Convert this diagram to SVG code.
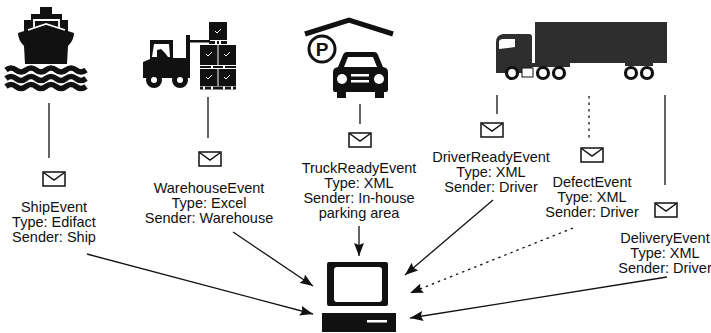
<svg xmlns="http://www.w3.org/2000/svg" width="711" height="333" viewBox="0 0 711 333">
  <style>
    .lbl { font-family: "Liberation Sans", Arial, sans-serif; font-size: 14.5px; fill: #111; text-anchor: middle; }
    .ink { fill: #111; }
    .wire { stroke: #111; stroke-width: 1.3; fill: none; }
    .dots { stroke: #111; stroke-width: 1.3; fill: none; stroke-dasharray: 2.5 4; }
    .env rect { fill: #fff; stroke: #111; stroke-width: 1.5; }
    .env path { fill: none; stroke: #111; stroke-width: 1.5; stroke-linejoin: miter; }
    .wave { fill: none; stroke: #111; stroke-width: 5.5; }
    .wheel { fill: #fff; stroke: #111; stroke-width: 3.2; }
    .chk { fill: none; stroke: #fff; stroke-width: 1; }
  </style>
  <defs>
    <marker id="head" markerUnits="userSpaceOnUse" markerWidth="14" markerHeight="10" refX="13" refY="5" orient="auto">
      <path d="M0 0 L13 5 L0 10 L2 5 Z" fill="#111"/>
    </marker>
    <g id="mail" class="env">
      <rect x="0" y="0" width="22" height="14"/>
      <path d="M0.5 0.5 L11 8 L21.5 0.5"/>
    </g>
  </defs>

  <!-- ship -->
  <g id="ship">
    <rect class="ink" x="40" y="7" width="12" height="8"/>
    <rect class="ink" x="31" y="14" width="31" height="8"/>
    <rect class="ink" x="24" y="20" width="44" height="12"/>
    <path d="M34 29 L34 20 L59 20 L59 29" stroke="#fff" stroke-width="1.8" fill="none"/>
    <path class="ink" d="M18 33 L46 24 L74 33 Q74 40 68 46 L67 64 L25 64 L24 46 Q18 40 18 33 Z"/>
    <path d="M28 30 L46 24 L65 30" stroke="#fff" stroke-width="1.8" fill="none"/>
    <path class="wave" d="M6 70 q5 -4 10 0 t10 0 t10 0 t10 0 t10 0 t10 0 t10 0 t10 0"/>
    <path class="wave" d="M6 78.5 q5 -4 10 0 t10 0 t10 0 t10 0 t10 0 t10 0 t10 0 t10 0"/>
    <path class="wave" d="M6 86.5 q5 -4 10 0 t10 0 t10 0 t10 0 t10 0 t10 0 t10 0 t10 0"/>
  </g>

  <!-- warehouse: forklift and pallets -->
  <g id="warehouse">
    <path class="ink" d="M143 78 L143 62 L150 59 L150 40 L173 40 L173 58 L187 58 L187 78 Z"/>
    <path d="M154 44 L169 44 L170 57 L152 57 Z" fill="#fff"/>
    <path class="ink" d="M157 57 L157 50 L161 49 L165 53 L168 57 Z"/>
    <rect class="ink" x="186" y="35" width="4" height="43"/>
    <rect class="ink" x="186" y="40" width="24" height="2.5"/>
    <circle class="ink" cx="154" cy="80" r="8"/>
    <circle cx="154" cy="80" r="3" fill="#fff"/>
    <circle class="ink" cx="180" cy="80" r="8"/>
    <circle cx="180" cy="80" r="3" fill="#fff"/>
    <rect class="ink" x="209" y="22" width="18" height="18"/>
    <rect class="ink" x="209" y="41" width="18" height="3"/>
    <rect class="ink" x="200" y="45" width="17.5" height="20"/>
    <rect class="ink" x="218.5" y="45" width="17.5" height="20"/>
    <rect class="ink" x="200" y="66" width="36" height="2"/>
    <rect class="ink" x="200" y="69" width="17.5" height="17"/>
    <rect class="ink" x="218.5" y="69" width="17.5" height="17"/>
    <rect class="ink" x="200" y="86.5" width="36" height="3"/>
    <path d="M204 86.5 v3 M212 86.5 v3 M224 86.5 v3 M232 86.5 v3 M212 66 v2 M224 66 v2 M216 41 v3 M220 41 v3" stroke="#fff" stroke-width="2"/>
    <path class="chk" d="M215 31 l2 2 l4 -4 M206 54 l2 2 l4 -4 M224 54 l2 2 l4 -4 M206 77 l2 2 l4 -4 M224 77 l2 2 l4 -4"/>
  </g>

  <!-- parking: roof, sign, car -->
  <g id="parking">
    <path d="M305 34 L349 20 L393 34" fill="none" stroke="#111" stroke-width="5"/>
    <circle cx="322" cy="49" r="13" fill="#fff" stroke="#111" stroke-width="3"/>
    <text x="322" y="56" font-family="Liberation Sans, Arial, sans-serif" font-weight="bold" font-size="19" text-anchor="middle" fill="#111">P</text>
    <path class="ink" d="M347 52 L374 52 Q377 52 378 55 L383 67 L386 68 Q388 69 388 72 L388 90 Q388 92 386 92 L335 92 Q333 92 333 90 L333 72 Q333 69 335 68 L338 67 L343 55 Q344 52 347 52 Z"/>
    <path d="M348 57 L373 57 L377 67 L344 67 Z" fill="#fff"/>
    <rect class="ink" x="337" y="90" width="9" height="8"/>
    <rect class="ink" x="375" y="90" width="9" height="8"/>
    <circle cx="342" cy="79" r="5" fill="#fff"/>
    <circle cx="379" cy="79" r="5" fill="#fff"/>
    <rect x="351" y="74" width="18" height="2.5" fill="#fff"/>
    <rect x="351" y="80" width="18" height="2.5" fill="#fff"/>
  </g>

  <!-- truck -->
  <g id="truck">
    <rect x="535" y="22" width="132" height="41" fill="#2e2e2e"/>
    <path d="M496 73 L496 42 Q496 35 503 34 L529 34 Q532 34 532 37 L532 73 Z" fill="#2e2e2e"/>
    <path d="M499 41 Q500 39 503 39 L515 39 L515 47 L499 49 Z" fill="#fff"/>
    <rect x="530" y="63" width="40" height="4" fill="#2e2e2e"/>
    <rect x="625" y="63" width="28" height="3" fill="#2e2e2e"/>
    <rect x="522" y="68" width="11" height="9" fill="#fff" stroke="#111" stroke-width="1"/>
    <circle class="wheel" cx="512" cy="73" r="5.5"/>
    <circle class="wheel" cx="543" cy="73" r="5.5"/>
    <circle class="wheel" cx="559" cy="73" r="5.5"/>
    <circle class="wheel" cx="631" cy="73" r="5.5"/>
    <circle class="wheel" cx="647" cy="73" r="5.5"/>
  </g>

  <!-- computer -->
  <g id="computer">
    <rect class="ink" x="327" y="262" width="61" height="44" rx="2"/>
    <rect x="334" y="267" width="48" height="35" rx="3" fill="#fff"/>
    <rect class="ink" x="322" y="313" width="74" height="19"/>
    <rect x="367" y="320" width="20" height="2.5" fill="#fff"/>
  </g>

  <!-- events -->
  <g id="ship-event">
    <use href="#mail" x="43" y="172"/>
    <text class="lbl" x="54" y="212">ShipEvent</text>
    <text class="lbl" x="54" y="227">Type: Edifact</text>
    <text class="lbl" x="54" y="242">Sender: Ship</text>
  </g>
  <g id="warehouse-event">
    <use href="#mail" x="199" y="152"/>
    <text class="lbl" x="209" y="193">WarehouseEvent</text>
    <text class="lbl" x="209" y="208">Type: Excel</text>
    <text class="lbl" x="209" y="223">Sender: Warehouse</text>
  </g>
  <g id="truckready-event">
    <use href="#mail" x="349" y="133"/>
    <text class="lbl" x="359" y="173">TruckReadyEvent</text>
    <text class="lbl" x="359" y="188">Type: XML</text>
    <text class="lbl" x="359" y="203">Sender: In-house</text>
    <text class="lbl" x="359" y="218">parking area</text>
  </g>
  <g id="driverready-event">
    <use href="#mail" x="481" y="123"/>
    <text class="lbl" x="491" y="162">DriverReadyEvent</text>
    <text class="lbl" x="491" y="177">Type: XML</text>
    <text class="lbl" x="491" y="192">Sender: Driver</text>
  </g>
  <g id="defect-event">
    <use href="#mail" x="581" y="148"/>
    <text class="lbl" x="592" y="187">DefectEvent</text>
    <text class="lbl" x="592" y="202">Type: XML</text>
    <text class="lbl" x="592" y="217">Sender: Driver</text>
  </g>
  <g id="delivery-event">
    <use href="#mail" x="655" y="203"/>
    <text class="lbl" x="665" y="243">DeliveryEvent</text>
    <text class="lbl" x="665" y="258">Type: XML</text>
    <text class="lbl" x="665" y="273">Sender: Driver</text>
  </g>

  <!-- connectors -->
  <g id="connectors">
    <line class="wire" x1="49" y1="103" x2="49" y2="158"/>
    <line class="wire" x1="208" y1="97" x2="208" y2="138"/>
    <line class="wire" x1="360" y1="104" x2="360" y2="124"/>
    <line class="wire" x1="497" y1="95" x2="497" y2="114"/>
    <line class="dots" x1="589" y1="96" x2="589" y2="138"/>
    <line class="wire" x1="665" y1="95" x2="665" y2="185"/>

    <line class="wire" x1="87" y1="254" x2="313" y2="314" marker-end="url(#head)"/>
    <line class="wire" x1="233" y1="232" x2="313" y2="286" marker-end="url(#head)"/>
    <line class="wire" x1="359" y1="226" x2="359" y2="256" marker-end="url(#head)"/>
    <line class="wire" x1="493" y1="200" x2="405" y2="275" marker-end="url(#head)"/>
    <line class="dots" x1="573" y1="228" x2="410" y2="293" marker-end="url(#head)"/>
    <line class="wire" x1="667" y1="277" x2="410" y2="318" marker-end="url(#head)"/>
  </g>
</svg>
